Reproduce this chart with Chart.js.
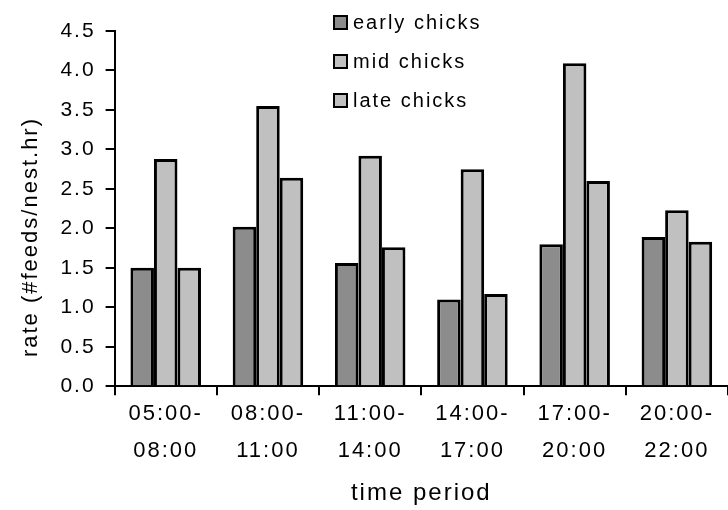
<!DOCTYPE html>
<html lang="en">
<head>
  <meta charset="UTF-8">
  <title>Feeding rate by time period</title>
  <script src="https://cdn.jsdelivr.net/npm/chart.js"></script>
  <style>
    html, body { margin: 0; padding: 0; background: #fff; }
    #wrap { position: relative; width: 728px; height: 510px; }
    #legend {
      position: absolute; left: 333px; top: 3px;
      font-family: "Liberation Sans", Arial, sans-serif; font-size: 20px; color: #000;
      letter-spacing: 2px;
    }
    #legend div { display: flex; align-items: center; height: 39px; }
    #legend span.box {
      display: inline-block; width: 11px; height: 11px; border: 2px solid #000;
      margin-right: 5px;
    }
  </style>
</head>
<body>
  <div id="wrap">
    <canvas id="chart" width="728" height="510"></canvas>
    <div id="legend"></div>
  </div>

  <script>
    // values
    var periods = [['05:00-', '08:00'], ['08:00-', '11:00'], ['11:00-', '14:00'],
                   ['14:00-', '17:00'], ['17:00-', '20:00'], ['20:00-', '22:00']];
    var early = [1.50, 2.02, 1.56, 1.10, 1.80, 1.89];
    var mid   = [2.88, 3.55, 2.92, 2.75, 4.09, 2.23];
    var late  = [1.50, 2.64, 1.76, 1.17, 2.60, 1.83];
    var seriesNames = ['early chicks', 'mid chicks', 'late chicks'];
    var seriesColors = ['#8c8c8c', '#c0c0c0', '#c0c0c0'];

    var family = '"Liberation Sans", Arial, sans-serif';

    // the original uses a loosely spaced bitmap font
    var spacing = {
      id: 'spacing',
      beforeUpdate: function(chart) { chart.ctx.letterSpacing = '2px'; },
      beforeDraw: function(chart) { chart.ctx.letterSpacing = '2px'; }
    };

    var datasets = [early, mid, late].map(function(vals, i) {
      return {
        label: seriesNames[i],
        data: vals,
        backgroundColor: seriesColors[i],
        borderColor: '#000',
        borderWidth: 3,
        borderSkipped: 'bottom',
        categoryPercentage: 0.69,
        barPercentage: 1.0
      };
    });

    new Chart(document.getElementById('chart'), {
      type: 'bar',
      data: { labels: periods, datasets: datasets },
      plugins: [spacing],
      options: {
        responsive: false,
        animation: false,
        layout: { padding: { top: 31, left: 18, right: 0, bottom: 2 } },
        plugins: { legend: { display: false }, tooltip: { enabled: false } },
        scales: {
          x: {
            grid: { offset: true, drawOnChartArea: false, color: '#000', lineWidth: 2, tickLength: 9 },
            border: { color: '#000', width: 2 },
            ticks: { color: '#000', font: { family: family, size: 22, lineHeight: 1.68 }, padding: 0, maxRotation: 0 },
            title: { display: true, text: 'time period', color: '#000', font: { family: family, size: 24 }, padding: { top: 10, bottom: 0 } }
          },
          y: {
            min: 0, max: 4.5,
            grid: { drawOnChartArea: false, color: '#000', lineWidth: 2, tickLength: 9 },
            border: { color: '#000', width: 2 },
            ticks: { stepSize: 0.5, color: '#000', font: { family: family, size: 21 }, padding: 10,
                     callback: function(v) { return v.toFixed(1); } },
            // trailing no-break spaces push the title a little below the axis centre, as in the original
            title: { display: true, text: 'rate (#feeds/nest.hr)\u00a0\u00a0\u00a0\u00a0\u00a0\u00a0\u00a0', color: '#000',
                     font: { family: family, size: 22 }, padding: { top: 0, bottom: 6 } }
          }
        }
      }
    });

    // legend from the same names/colours
    var leg = document.getElementById('legend');
    seriesNames.forEach(function(name, i) {
      var row = document.createElement('div');
      row.innerHTML = '<span class="box" style="background:' + seriesColors[i] + '"></span>' + name;
      leg.appendChild(row);
    });
  </script>
</body>
</html>
